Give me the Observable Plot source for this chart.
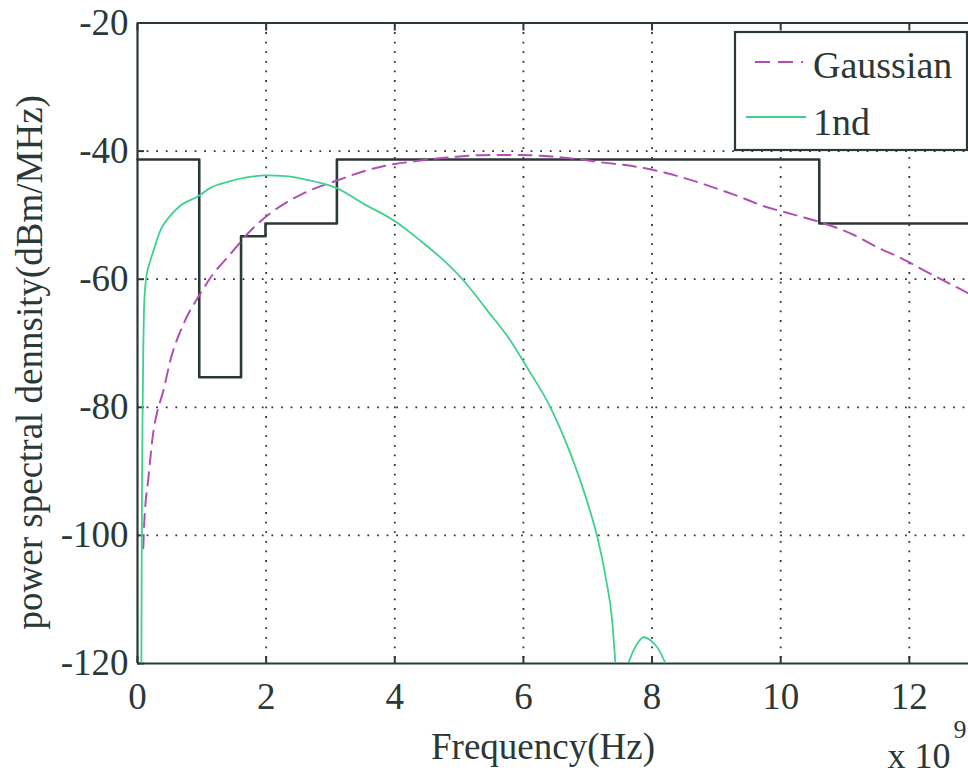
<!DOCTYPE html>
<html><head><meta charset="utf-8">
<script src="https://cdn.jsdelivr.net/npm/d3@7"></script>
<script src="https://cdn.jsdelivr.net/npm/@observablehq/plot@0.6"></script>
<style>body{margin:0;background:#fff} #chart{width:968px;height:778px;overflow:hidden}</style>
</head><body><div id="chart"></div>
<script>
// ---- data (frequency in GHz, i.e. x 10^9 Hz; PSD in dBm/MHz) ----
const xTicks = [0, 2, 4, 6, 8, 10, 12];
const yTicks = [-120, -100, -80, -60, -40, -20];
const maskFreq  = [0, 0.96, 1.61, 1.99, 3.1, 10.6, 12.92];
const maskLevel = [-41.3, -75.3, -53.3, -51.3, -41.3, -51.3, -51.3];
const gaussFreq = [0.09, 0.10, 0.17, 0.25, 0.30, 0.40, 0.51, 0.72, 0.98, 1.14, 1.45, 1.76, 2.12, 2.58, 3.10, 3.47, 3.89, 4.30, 4.82, 5.18, 5.60, 5.96, 6.37, 6.80, 7.25, 7.67, 8.09, 8.50, 9.02, 9.38, 9.74, 10.16, 10.65, 11.14, 11.50, 11.87, 12.30, 12.92];
const gaussPsd  = [-102, -99, -91, -83.6, -81, -77.5, -72.7, -66.9, -62.2, -59.7, -56, -52.4, -49.3, -46.6, -44.6, -43.3, -42.2, -41.6, -41.0, -40.7, -40.6, -40.6, -40.8, -41.2, -41.8, -42.3, -43.1, -44.2, -45.9, -47.2, -48.6, -49.8, -51.2, -53.1, -55.0, -56.7, -59.0, -62.2];
const firstFreq = [0.06, 0.065, 0.07, 0.08, 0.09, 0.10, 0.13, 0.20, 0.25, 0.36, 0.50, 0.67, 0.95, 1.14, 1.40, 1.70, 2.00, 2.30, 2.60, 2.90, 3.08, 3.51, 3.98, 4.40, 4.71, 5.07, 5.44, 5.80, 6.07, 6.42, 6.73, 7.00, 7.15, 7.28, 7.38, 7.43];
const firstPsd  = [-120, -105, -92, -80, -71, -65, -60.2, -57.1, -55.5, -52.3, -50.2, -48.5, -47.0, -45.7, -44.8, -44.1, -43.8, -43.9, -44.4, -45.1, -45.7, -48.2, -50.8, -54, -56.6, -60.2, -64.9, -69.6, -74.0, -80, -87.2, -95, -100.3, -106.6, -113.3, -120];
const lobeFreq  = [7.63, 7.71, 7.79, 7.87, 7.98, 8.09, 8.21];
const lobePsd   = [-120, -118, -116.6, -115.9, -116.4, -117.6, -120];
const legendLabels = ["Gaussian", "1nd"];

const mask = maskFreq.map((f, i) => ({f, p: maskLevel[i]}));
const gauss = gaussFreq.map((f, i) => ({f, p: gaussPsd[i]}));
const first = firstFreq.map((f, i) => ({f, p: firstPsd[i], seg: "main"}))
  .concat(lobeFreq.map((f, i) => ({f, p: lobePsd[i], seg: "lobe"})));

const ink = "#2b3838";
const purple = "#b24db2";
const green = "#3fd08f";
const font = "Liberation Serif, Times New Roman, serif";
const fmt = d => String(d); // hyphen-minus like the original

const plot = Plot.plot({
  width: 968,
  height: 778,
  marginLeft: 137,
  marginRight: 0,
  marginTop: 22.5,
  marginBottom: 115,
  style: {fontFamily: font, fontSize: "36px", color: ink, background: "#fff", overflow: "visible"},
  x: {domain: [0, 12.92], axis: null},
  y: {domain: [-120, -20], axis: null},
  marks: [
    Plot.gridX(xTicks.filter(v => v > 0), {stroke: "#333", strokeOpacity: 1, strokeWidth: 1.8, strokeDasharray: "1.8,7.8"}),
    Plot.gridY(yTicks.filter(v => v > -120 && v < -20), {stroke: "#333", strokeOpacity: 1, strokeWidth: 1.8, strokeDasharray: "1.8,7.8"}),
    Plot.ruleX([0], {stroke: ink, strokeWidth: 2.2}),
    Plot.ruleY([-120, -20], {stroke: ink, strokeWidth: 2.2}),
    Plot.axisX(xTicks, {anchor: "bottom", tickSize: 7, dy: -7, fill: "none", stroke: ink, strokeWidth: 2, label: null}),
    Plot.axisX(xTicks, {anchor: "top", tickSize: 7, dy: 7, fill: "none", stroke: ink, strokeWidth: 2, label: null}),
    Plot.axisY(yTicks, {anchor: "left", tickSize: 7, dx: 7, fill: "none", stroke: ink, strokeWidth: 2, label: null}),
    Plot.axisX(xTicks, {anchor: "bottom", tickSize: 0, tickPadding: 19, fill: ink, label: null, fontSize: 37, tickFormat: fmt}),
    Plot.axisY(yTicks, {anchor: "left", tickSize: 0, tickPadding: 9, fill: ink, label: null, fontSize: 37, tickFormat: fmt}),
    Plot.line(mask, {x: "f", y: "p", curve: "step-after", stroke: ink, strokeWidth: 2.6}),
    Plot.line(gauss, {x: "f", y: "p", curve: "monotone-x", stroke: purple, strokeWidth: 2, strokeDasharray: "13,8", clip: true}),
    Plot.line(first, {x: "f", y: "p", z: "seg", curve: "monotone-x", stroke: green, strokeWidth: 1.8, clip: true}),
    Plot.text(["Frequency(Hz)"], {frameAnchor: "bottom", dx: -10, dy: 95, fill: ink, fontSize: 37}),
    Plot.text(["power spectral dennsity(dBm/MHz)"], {frameAnchor: "left", textAnchor: "middle", rotate: -90, dx: -107, dy: 19, fill: ink, fontSize: 37}),
    Plot.text(["x 10"], {frameAnchor: "bottom-right", textAnchor: "end", dx: -18, dy: 104, fill: ink, fontSize: 36}),
    Plot.text(["9"], {frameAnchor: "bottom-right", textAnchor: "end", dx: -2, dy: 74, fill: ink, fontSize: 26})
  ]
});

// legend box (MATLAB style, drawn over the grid)
const svg = d3.select(plot);
const lg = svg.append("g").attr("font-family", font).attr("font-size", 38).attr("fill", ink).attr("text-anchor", "start");
lg.append("rect").attr("x", 735).attr("y", 32).attr("width", 232).attr("height", 118)
  .attr("fill", "#fff").attr("stroke", ink).attr("stroke-width", 2.2);
lg.append("line").attr("x1", 755).attr("x2", 803).attr("y1", 62).attr("y2", 62)
  .attr("stroke", purple).attr("stroke-width", 2).attr("stroke-dasharray", "15,8");
lg.append("line").attr("x1", 746).attr("x2", 806).attr("y1", 117).attr("y2", 117)
  .attr("stroke", green).attr("stroke-width", 2);
lg.append("text").attr("x", 813).attr("y", 78).text(legendLabels[0]);
lg.append("text").attr("x", 813).attr("y", 135).text(legendLabels[1]);

document.getElementById("chart").appendChild(plot);
</script></body></html>
